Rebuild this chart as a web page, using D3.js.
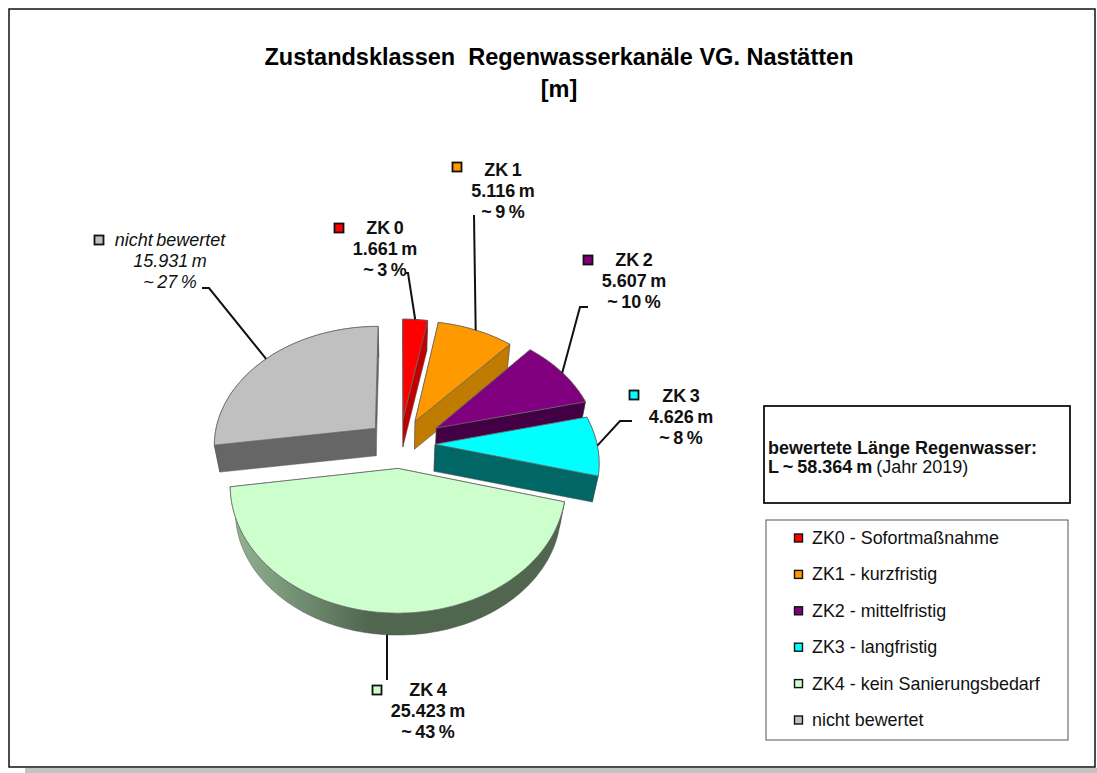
<!DOCTYPE html>
<html>
<head>
<meta charset="utf-8">
<script src="https://cdn.jsdelivr.net/npm/d3@7"></script>
<style>
body { margin: 0; background: white; }
svg { display: block; font-family: "Liberation Sans", Arial, sans-serif; }
</style>
</head>
<body>
<script>
// chart data
var categories = ["ZK 0", "ZK 1", "ZK 2", "ZK 3", "ZK 4", "nicht bewertet"];
var lengths = [1661, 5116, 5607, 4626, 25423, 15931];
var lengthLabels = ["1.661 m", "5.116 m", "5.607 m", "4.626 m", "25.423 m", "15.931 m"];
var percentLabels = ["~ 3 %", "~ 9 %", "~ 10 %", "~ 8 %", "~ 43 %", "~ 27 %"];
var legendLabels = ["ZK0 - Sofortmaßnahme", "ZK1 - kurzfristig", "ZK2 - mittelfristig",
    "ZK3 - langfristig", "ZK4 - kein Sanierungsbedarf", "nicht bewertet"];

// colors of the top faces and of the sides
var topColors = ["#ff0000", "#ff9900", "#800080", "#00ffff", "#ccffcc", "#c0c0c0"];
var sideColors = ["#c00000", "#c07c00", "#440044", "#006666", "url(#rimGreen)", "#666666"];

// how far each slice is pulled out of the pie
var explodeBy = [0.216, 0.216, 0.266, 0.216, 0.2, 0.205];

// where the labels sit: marker, text center, first line y, leader bend points
var labelPos = [
    { mx: 339, my: 228, tx: 385, ty: 234, knots: [[408, 273], [405, 273]] },
    { mx: 457, my: 167, tx: 503, ty: 176, knots: [[474, 215]] },
    { mx: 588, my: 260, tx: 634, ty: 266, knots: [[580, 307], [588, 307]] },
    { mx: 634, my: 395, tx: 681, ty: 402, knots: [[620, 421], [632, 421]] },
    { mx: 377, my: 690, tx: 428, ty: 696, knots: [[387, 680]] },
    { mx: 99, my: 240, tx: 170, ty: 246, knots: [[209, 288], [202, 288]] }
];

var w = 1097;
var h = 773;

var svg = d3.select("body").append("svg")
    .attr("width", w)
    .attr("height", h);

// gradient for the big green rim
var grad = svg.append("defs").append("linearGradient")
    .attr("id", "rimGreen")
    .attr("gradientUnits", "userSpaceOnUse")
    .attr("x1", 230).attr("x2", 370).attr("y1", 0).attr("y2", 0);
grad.append("stop").attr("offset", "0").attr("stop-color", "#94b594");
grad.append("stop").attr("offset", "1").attr("stop-color", "#50664f");

// page shadow and chart frame
svg.append("rect").attr("x", 25).attr("y", 768).attr("width", w - 25).attr("height", 5).attr("fill", "#c4c4c4");
svg.append("rect").attr("x", 9).attr("y", 9).attr("width", 1086).attr("height", 758)
    .attr("fill", "white").attr("stroke", "#111").attr("stroke-width", 1.5);

// title
svg.append("text").attr("x", 559).attr("y", 65).attr("text-anchor", "middle")
    .attr("font-size", 23.5).attr("font-weight", "bold").attr("xml:space", "preserve")
    .text("Zustandsklassen  Regenwasserkanäle VG. Nastätten");
svg.append("text").attr("x", 559).attr("y", 97).attr("text-anchor", "middle")
    .attr("font-size", 23.5).attr("font-weight", "bold").text("[m]");

// 3d pie: d3.pie gives the angles, the disc is then projected with perspective
var pie = d3.pie().sort(null).startAngle(0).endAngle(2 * Math.PI);
var arcs = pie(lengths);

var cx = 400, cy = 444;
var radiusX = 162, radiusY = 119;
var persp = 0.13;
var depth = 27;
var bottomScale = 0.97;

function project(u, v, bottom) {
    var s = 1 / (1 - persp * v);
    var k = bottom ? bottomScale : 1;
    return [cx + radiusX * u * s * k, cy + radiusY * v * s * k + (bottom ? depth : 0)];
}

// point on the disc of one slice, r 0 is the exploded apex
function slicePoint(d, a, r, bottom) {
    var mid = (d.startAngle + d.endAngle) / 2;
    var e = explodeBy[d.index];
    var u = e * Math.sin(mid) + r * Math.sin(a);
    var v = -e * Math.cos(mid) - r * Math.cos(a);
    return project(u, v, bottom);
}

function rimPoints(d, bottom) {
    var n = Math.ceil((d.endAngle - d.startAngle) / 0.02);
    return d3.range(n + 1).map(function (i) {
        return slicePoint(d, d.startAngle + (d.endAngle - d.startAngle) * i / n, 1, bottom);
    });
}

var line = d3.line();

// back slices first
var drawOrder = [5, 0, 1, 2, 3, 4];

var slices = svg.selectAll("g.slice").data(drawOrder).enter().append("g").attr("class", "slice");

slices.each(function (i) {
    var d = arcs[i];
    var g = d3.select(this);
    var topRim = rimPoints(d, false);
    var botRim = rimPoints(d, true);

    // outer rim
    g.append("path")
        .attr("d", line(topRim.concat(botRim.slice().reverse())) + "Z")
        .attr("fill", sideColors[i]).attr("stroke", "#555").attr("stroke-width", 0.5);

    // the two cut faces
    [d.startAngle, d.endAngle].forEach(function (a) {
        g.append("path")
            .attr("d", line([slicePoint(d, a, 0, false), slicePoint(d, a, 1, false),
                slicePoint(d, a, 1, true), slicePoint(d, a, 0, true)]) + "Z")
            .attr("fill", i == 4 ? "#50664f" : sideColors[i])
            .attr("stroke", "#555").attr("stroke-width", 0.5);
    });

    // top face
    g.append("path")
        .attr("d", line([slicePoint(d, 0, 0, false)].concat(topRim)) + "Z")
        .attr("fill", topColors[i]).attr("stroke", "#666").attr("stroke-width", 0.8);
});

// leader lines start on the rim at the middle of each slice
arcs.forEach(function (d, i) {
    var mid = (d.startAngle + d.endAngle) / 2;
    var onPie = slicePoint(d, mid, 1, i == 4);
    svg.append("path")
        .attr("d", line([onPie].concat(labelPos[i].knots)))
        .attr("fill", "none").attr("stroke", "#111").attr("stroke-width", 2);
});

// data labels
categories.forEach(function (name, i) {
    var p = labelPos[i];
    var italic = i == 5;
    svg.append("rect").attr("x", p.mx - 4.5).attr("y", p.my - 4.5).attr("width", 9).attr("height", 9)
        .attr("fill", topColors[i]).attr("stroke", "#111").attr("stroke-width", 1.8);
    [name, lengthLabels[i], percentLabels[i]].forEach(function (t, j) {
        svg.append("text")
            .attr("x", p.tx).attr("y", p.ty + j * 21)
            .attr("text-anchor", "middle")
            .attr("font-size", 18)
            .attr("word-spacing", -1.5)
            .attr("font-weight", italic ? "normal" : "bold")
            .attr("font-style", italic ? "italic" : "normal")
            .attr("fill", "#111")
            .text(t);
    });
});

// info box
svg.append("rect").attr("x", 764).attr("y", 406).attr("width", 306).attr("height", 97)
    .attr("fill", "white").attr("stroke", "#111").attr("stroke-width", 1.8);
svg.append("text").attr("x", 768).attr("y", 454).attr("font-size", 18).attr("font-weight", "bold")
    .attr("fill", "#111").text("bewertete Länge Regenwasser:");
var info = svg.append("text").attr("x", 768).attr("y", 473).attr("font-size", 18).attr("fill", "#111");
info.append("tspan").attr("font-weight", "bold").attr("word-spacing", -1).text("L ~ 58.364 m ");
info.append("tspan").text("(Jahr 2019)");

// legend
svg.append("rect").attr("x", 766).attr("y", 520).attr("width", 302).attr("height", 220)
    .attr("fill", "white").attr("stroke", "#555").attr("stroke-width", 1);

var legendY = d3.scalePoint().domain(legendLabels).range([538, 720]);

var items = svg.selectAll("g.item").data(legendLabels).enter().append("g").attr("class", "item");
items.append("rect")
    .attr("x", 794.5)
    .attr("y", function (d) { return legendY(d) - 4; })
    .attr("width", 8).attr("height", 8)
    .attr("fill", function (d, i) { return topColors[i]; })
    .attr("stroke", "#111").attr("stroke-width", 1.4);
items.append("text")
    .attr("x", 812)
    .attr("y", function (d) { return legendY(d) + 6; })
    .attr("font-size", 17.9)
    .attr("fill", "#111")
    .text(function (d) { return d; });
</script>
</body>
</html>
